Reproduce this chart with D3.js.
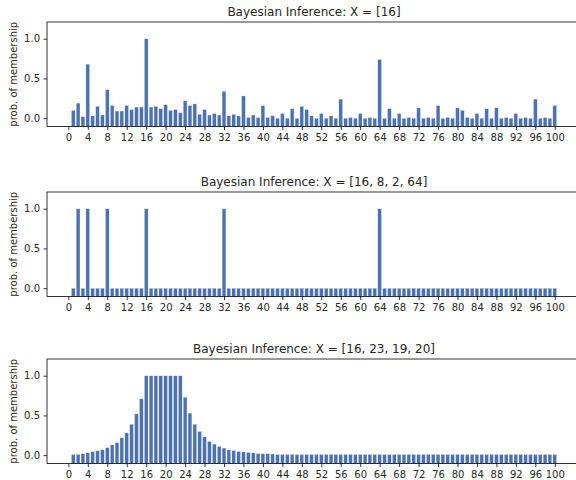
<!DOCTYPE html>
<html>
<head>
<meta charset="utf-8">
<script src="https://cdn.jsdelivr.net/npm/d3@7"></script>
<style>
  body { margin: 0; background: #fff; }
  svg { display: block; font-family: "DejaVu Sans", sans-serif; }
</style>
</head>
<body>
<svg></svg>
<script>
// candidate numbers 1..100
var numbers = d3.range(1, 101);
var xTicks = d3.range(0, 101, 4);
var yTicks = [0.0, 0.5, 1.0];

var titles = [
    "Bayesian Inference: X = [16]",
    "Bayesian Inference: X = [16, 8, 2, 64]",
    "Bayesian Inference: X = [16, 23, 19, 20]"
];

var probX16 = [
    0.10, 0.19, 0.02, 0.68, 0.03, 0.15, 0.04, 0.36, 0.16, 0.09,
    0.09, 0.16, 0.11, 0.14, 0.14, 1.00, 0.14, 0.15, 0.12, 0.17,
    0.10, 0.11, 0.07, 0.22, 0.16, 0.18, 0.05, 0.11, 0.04, 0.06,
    0.04, 0.34, 0.03, 0.05, 0.03, 0.28, 0.01, 0.04, 0.01, 0.16,
    0.01, 0.03, 0.00, 0.06, 0.00, 0.12, 0.00, 0.15, 0.11, 0.03,
    0.00, 0.06, 0.00, 0.03, 0.00, 0.24, 0.00, 0.01, 0.00, 0.06,
    0.00, 0.01, 0.00, 0.74, 0.00, 0.12, 0.00, 0.06, 0.00, 0.01,
    0.00, 0.13, 0.00, 0.01, 0.00, 0.16, 0.00, 0.01, 0.00, 0.13,
    0.10, 0.01, 0.00, 0.06, 0.00, 0.12, 0.00, 0.13, 0.00, 0.01,
    0.00, 0.06, 0.00, 0.01, 0.00, 0.24, 0.00, 0.01, 0.00, 0.16
];

var probPowers = [
    0, 1, 0, 1, 0, 0, 0, 1, 0, 0,
    0, 0, 0, 0, 0, 1, 0, 0, 0, 0,
    0, 0, 0, 0, 0, 0, 0, 0, 0, 0,
    0, 1, 0, 0, 0, 0, 0, 0, 0, 0,
    0, 0, 0, 0, 0, 0, 0, 0, 0, 0,
    0, 0, 0, 0, 0, 0, 0, 0, 0, 0,
    0, 0, 0, 1, 0, 0, 0, 0, 0, 0,
    0, 0, 0, 0, 0, 0, 0, 0, 0, 0,
    0, 0, 0, 0, 0, 0, 0, 0, 0, 0,
    0, 0, 0, 0, 0, 0, 0, 0, 0, 0
];

var probInterval = [
    0.010, 0.012, 0.020, 0.030, 0.045, 0.055, 0.068, 0.095, 0.130, 0.160,
    0.220, 0.280, 0.390, 0.520, 0.710, 1.000, 1.000, 1.000, 1.000, 1.000,
    1.000, 1.000, 1.000, 0.730, 0.530, 0.390, 0.300, 0.230, 0.175, 0.140,
    0.110, 0.090, 0.070, 0.060, 0.048, 0.042, 0.036, 0.030, 0.022, 0.020,
    0.020, 0.015, 0.010, 0.010, 0.010, 0.010, 0.010, 0.010, 0.010, 0.010,
    0.010, 0.010, 0.010, 0.010, 0.010, 0.010, 0.010, 0.010, 0.010, 0.010,
    0.010, 0.010, 0.010, 0.010, 0.010, 0.010, 0.010, 0.010, 0.010, 0.010,
    0.010, 0.010, 0.010, 0.010, 0.010, 0.010, 0.010, 0.010, 0.010, 0.010,
    0.010, 0.010, 0.010, 0.010, 0.010, 0.010, 0.010, 0.010, 0.010, 0.010,
    0.010, 0.010, 0.010, 0.010, 0.010, 0.010, 0.010, 0.010, 0.010, 0.010
];

var w = 576, h = 480;
var panelTops = [22, 192, 359];
var panelH = 104.5;
var left = 47, right = 581;
var barColor = "#4c72b0";
var textColor = "#262626";

var svg = d3.select("svg").attr("width", w).attr("height", h);

var x = d3.scaleLinear().domain([-4.39, 105.39]).range([left, right]);

[probX16, probPowers, probInterval].forEach(function(vals, i){
    var top = panelTops[i];
    var y = d3.scaleLinear().domain([-0.105, 1.21]).range([top + panelH, top]);
    var g = svg.append("g");

    // bars start at the bottom of the axes
    g.selectAll("rect")
        .data(numbers)
        .enter().append("rect")
        .attr("x", function(d){ return x(d - 0.4); })
        .attr("width", x(0.8) - x(0))
        .attr("y", function(d, j){ return y(vals[j]); })
        .attr("height", function(d, j){ return y.range()[0] - y(vals[j]); })
        .attr("fill", barColor)
        .attr("stroke", "#fff")
        .attr("stroke-width", 0.4);

    var xAxis = g.append("g")
        .attr("transform", "translate(0," + (top + panelH) + ")")
        .call(d3.axisBottom(x).tickValues(xTicks).tickSize(3.5).tickPadding(3.5).tickFormat(d3.format("d")));
    var yAxis = g.append("g")
        .attr("transform", "translate(" + left + ",0)")
        .call(d3.axisLeft(y).tickValues(yTicks).tickSize(3.5).tickPadding(3.5).tickFormat(d3.format(".1f")));

    [xAxis, yAxis].forEach(function(a){
        a.select(".domain").remove();
        a.selectAll("line").attr("stroke", "#000").attr("stroke-width", 0.8);
        a.selectAll("text").attr("fill", textColor).attr("font-size", 10)
            .attr("font-family", "DejaVu Sans, sans-serif");
    });

    // axes frame
    g.append("rect")
        .attr("x", left).attr("y", top)
        .attr("width", right - left).attr("height", panelH)
        .attr("fill", "none").attr("stroke", "#000").attr("stroke-width", 0.8);

    g.append("text")
        .attr("x", (left + right) / 2)
        .attr("y", top - 6)
        .attr("text-anchor", "middle")
        .attr("font-size", 12)
        .attr("fill", textColor)
        .text(titles[i]);

    g.append("text")
        .attr("transform", "translate(17," + (top + panelH / 2) + ") rotate(-90)")
        .attr("text-anchor", "middle")
        .attr("font-size", 10)
        .attr("fill", textColor)
        .text("prob. of membership");
});
</script>
</body>
</html>
